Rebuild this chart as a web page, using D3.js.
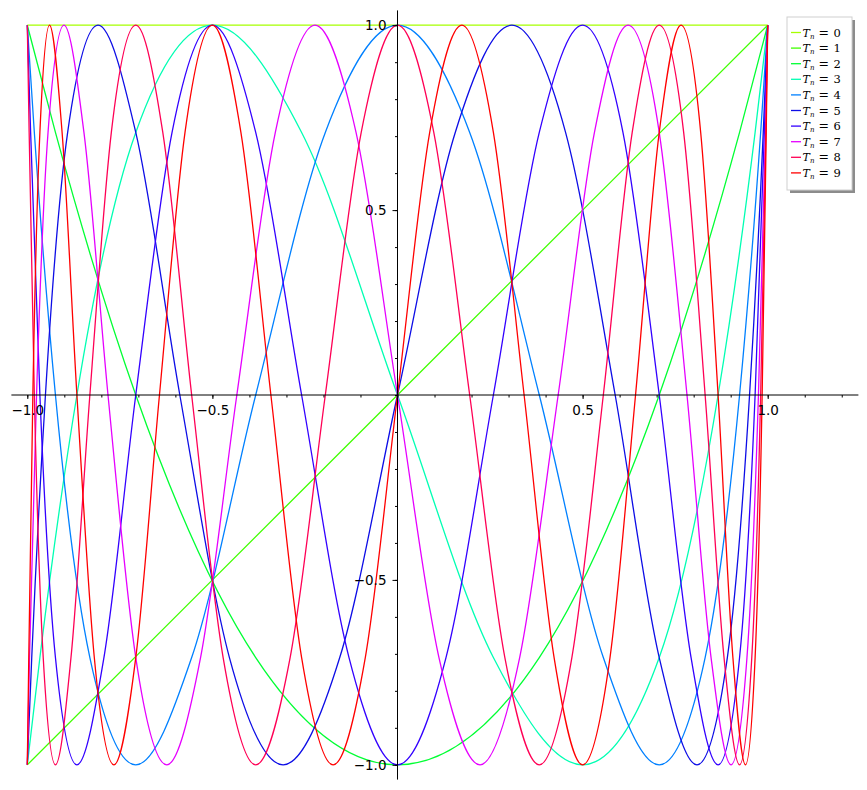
<!DOCTYPE html>
<html>
<head>
<meta charset="utf-8">
<script src="https://cdn.jsdelivr.net/npm/d3@7"></script>
<style>
  body { margin: 0; background: #fff; }
  svg { display: block; }
</style>
</head>
<body>
<script>
// points (x ascending), one pair of arrays per curve
var t0x = [-1, 0, 1]
var t0y = [1, 1, 1]
var t1x = [-1, 0, 1]
var t1y = [-1, 0, 1]
var t2x = [-1, -0.924, -0.707, -0.383, 0, 0.383, 0.707, 0.924, 1]
var t2y = [1, 0.71, 0, -0.71, -1, -0.71, 0, 0.71, 1]
var t3x = [-1, -0.966, -0.866, -0.707, -0.5, -0.259, 0, 0.259, 0.5, 0.707, 0.866, 0.966, 1]
var t3y = [-1, -0.71, 0, 0.71, 1, 0.71, 0, -0.71, -1, -0.71, 0, 0.71, 1]
var t4x = [-1, -0.981, -0.924, -0.831, -0.707, -0.556, -0.383, -0.195, 0, 0.195, 0.383, 0.556, 0.707, 0.831, 0.924, 0.981, 1]
var t4y = [1, 0.71, 0, -0.71, -1, -0.71, 0, 0.71, 1, 0.71, 0, -0.71, -1, -0.71, 0, 0.71, 1]
var t5x = [-1, -0.988, -0.951, -0.891, -0.809, -0.707, -0.588, -0.454, -0.309, -0.156, 0,
  0.156, 0.309, 0.454, 0.588, 0.707, 0.809, 0.891, 0.951, 0.988, 1]
var t5y = [-1, -0.71, 0, 0.71, 1, 0.71, 0, -0.71, -1, -0.71, 0, 0.71, 1, 0.71, 0, -0.71, -1, -0.71, 0, 0.71, 1]
var t6x = [-1, -0.991, -0.966, -0.924, -0.866, -0.793, -0.707, -0.609, -0.5, -0.383, -0.259, -0.131, 0,
  0.131, 0.259, 0.383, 0.5, 0.609, 0.707, 0.793, 0.866, 0.924, 0.966, 0.991, 1]
var t6y = [1, 0.71, 0, -0.71, -1, -0.71, 0, 0.71, 1, 0.71, 0, -0.71, -1,
  -0.71, 0, 0.71, 1, 0.71, 0, -0.71, -1, -0.71, 0, 0.71, 1]
var t7x = [-1, -0.994, -0.975, -0.944, -0.901, -0.847, -0.782, -0.707, -0.623, -0.532, -0.434, -0.33, -0.223, -0.112, 0,
  0.112, 0.223, 0.33, 0.434, 0.532, 0.623, 0.707, 0.782, 0.847, 0.901, 0.944, 0.975, 0.994, 1]
var t7y = [-1, -0.71, 0, 0.71, 1, 0.71, 0, -0.71, -1, -0.71, 0, 0.71, 1, 0.71, 0,
  -0.71, -1, -0.71, 0, 0.71, 1, 0.71, 0, -0.71, -1, -0.71, 0, 0.71, 1]
var t8x = [-1, -0.995, -0.981, -0.957, -0.924, -0.882, -0.831, -0.773, -0.707, -0.634, -0.556, -0.471, -0.383, -0.29, -0.195, -0.098, 0,
  0.098, 0.195, 0.29, 0.383, 0.471, 0.556, 0.634, 0.707, 0.773, 0.831, 0.882, 0.924, 0.957, 0.981, 0.995, 1]
var t8y = [1, 0.71, 0, -0.71, -1, -0.71, 0, 0.71, 1, 0.71, 0, -0.71, -1, -0.71, 0, 0.71, 1,
  0.71, 0, -0.71, -1, -0.71, 0, 0.71, 1, 0.71, 0, -0.71, -1, -0.71, 0, 0.71, 1]
var t9x = [-1, -0.996, -0.985, -0.966, -0.94, -0.906, -0.866, -0.819, -0.766, -0.707, -0.643, -0.574, -0.5, -0.423, -0.342, -0.259, -0.174, -0.087, 0,
  0.087, 0.174, 0.259, 0.342, 0.423, 0.5, 0.574, 0.643, 0.707, 0.766, 0.819, 0.866, 0.906, 0.94, 0.966, 0.985, 0.996, 1]
var t9y = [-1, -0.71, 0, 0.71, 1, 0.71, 0, -0.71, -1, -0.71, 0, 0.71, 1, 0.71, 0, -0.71, -1, -0.71, 0,
  0.71, 1, 0.71, 0, -0.71, -1, -0.71, 0, 0.71, 1, 0.71, 0, -0.71, -1, -0.71, 0, 0.71, 1]

var seriesX = [t0x, t1x, t2x, t3x, t4x, t5x, t6x, t7x, t8x, t9x]
var seriesY = [t0y, t1y, t2y, t3y, t4y, t5y, t6y, t7y, t8y, t9y]
var labels = ["0", "1", "2", "3", "4", "5", "6", "7", "8", "9"]
var colors = ["#a6ff00", "#40ff00", "#00ff33", "#00ffb3", "#0080ff",
  "#0d0de6", "#3300ff", "#e600ff", "#ff0055", "#ff0000"]

// tick values
var xMajor = [-1, -0.5, 0.5, 1]
var yMajor = [-1, -0.5, 0.5, 1]
var xMinor = d3.range(-10, 13).map(function(d) { return d / 10 })
var yMinor = d3.range(-10, 11).map(function(d) { return d / 10 })

var w = 867
var h = 790

var x = d3.scaleLinear().domain([-1, 1]).range([27.3, 767.7])
var y = d3.scaleLinear().domain([-1, 1]).range([764.8, 25.2])

var svg = d3.select("body").append("svg")
  .attr("width", w)
  .attr("height", h)

var line = d3.line()
  .x(function(d) { return x(d[0]) })
  .y(function(d) { return y(d[1]) })
  .curve(d3.curveMonotoneX)

// curves
svg.append("g")
  .selectAll("path")
  .data(seriesX)
  .enter()
  .append("path")
  .attr("d", function(xs, i) {
    return line(xs.map(function(v, j) { return [v, seriesY[i][j]] }))
  })
  .attr("fill", "none")
  .attr("stroke", function(d, i) { return colors[i] })
  .attr("stroke-width", 1.3)

// axes through the origin
var fmt = d3.format(".1f")
var axes = svg.append("g").attr("font-family", "DejaVu Sans, sans-serif")

axes.append("line")
  .attr("x1", x(-1.043)).attr("x2", x(1.245))
  .attr("y1", y(0)).attr("y2", y(0))
  .attr("stroke", "#000").attr("stroke-width", 1)
axes.append("line")
  .attr("x1", x(0)).attr("x2", x(0))
  .attr("y1", y(1.04)).attr("y2", y(-1.04))
  .attr("stroke", "#000").attr("stroke-width", 1)

axes.append("g")
  .attr("transform", "translate(0," + y(0) + ")")
  .call(d3.axisBottom(x).tickValues(xMinor).tickSize(2.5).tickFormat("").tickSizeOuter(0))
  .call(function(g) { g.select(".domain").remove() })
axes.append("g")
  .attr("transform", "translate(0," + y(0) + ")")
  .call(d3.axisBottom(x).tickValues(xMajor).tickSize(4).tickPadding(6.5).tickFormat(fmt).tickSizeOuter(0))
  .call(function(g) { g.select(".domain").remove() })

axes.append("g")
  .attr("transform", "translate(" + x(0) + ",0)")
  .call(d3.axisLeft(y).tickValues(yMinor).tickSize(2.5).tickFormat("").tickSizeOuter(0))
  .call(function(g) { g.select(".domain").remove() })
axes.append("g")
  .attr("transform", "translate(" + x(0) + ",0)")
  .call(d3.axisLeft(y).tickValues(yMajor).tickSize(5).tickPadding(6).tickFormat(fmt).tickSizeOuter(0))
  .call(function(g) { g.select(".domain").remove() })

axes.selectAll(".tick line").attr("stroke", "#000")
axes.selectAll(".tick text")
  .attr("font-size", 13.5)
  .attr("font-family", "DejaVu Sans, sans-serif")
  .attr("fill", "#000")

// legend
var legend = svg.append("g")
legend.append("rect")
  .attr("x", 790).attr("y", 20).attr("width", 65).attr("height", 173)
  .attr("fill", "#8c8c8c")
legend.append("rect")
  .attr("x", 787).attr("y", 17).attr("width", 65).attr("height", 173)
  .attr("fill", "#fff").attr("stroke", "#cfcfcf").attr("stroke-width", 1)

var item = legend.selectAll("g.item")
  .data(labels)
  .enter()
  .append("g")
  .attr("class", "item")
  .attr("transform", function(d, i) { return "translate(0," + (32.5 + i * 15.6) + ")" })

item.append("line")
  .attr("x1", 791).attr("x2", 801)
  .attr("stroke", function(d, i) { return colors[i] })
  .attr("stroke-width", 1.3)

var txt = item.append("text")
  .attr("y", 4)
  .attr("font-family", "DejaVu Serif, serif")
  .attr("font-size", 11)
  .attr("fill", "#000")
txt.append("tspan").attr("x", 802.5).attr("font-style", "italic").text("T")
txt.append("tspan").attr("x", 810).attr("dy", 2).attr("font-size", 7).attr("font-style", "italic").text("n")
txt.append("tspan").attr("x", 818.5).attr("dy", -2).attr("font-size", 12.5).text("=")
txt.append("tspan").attr("x", 833.5).attr("font-size", 11.5).text(function(d) { return d })
</script>
</body>
</html>
